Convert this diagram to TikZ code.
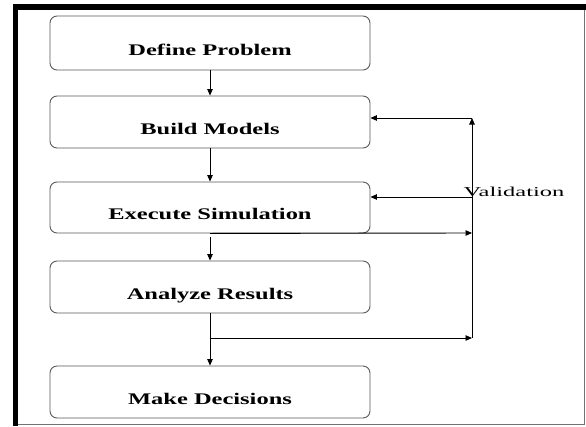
\documentclass[tikz,border=0pt]{standalone}
\usepackage{fontspec}
\setmainfont{Liberation Serif}
\newfontfamily\boxfont[FakeStretch=1.51]{Liberation Serif}
\newfontfamily\valfont[FakeStretch=1.8]{Liberation Serif}
\usetikzlibrary{arrows.meta}
\begin{document}
\begin{tikzpicture}[x=1pt,y=-1pt,
  stage/.style={draw=black!65, line width=0.9pt, rounded corners=7pt,
    minimum width=320pt, inner sep=0pt, text height=24.7pt, text depth=0pt,
    font=\boxfont\bfseries\fontsize{16.2}{18}\selectfont},
  arr/.style={-{Triangle[length=6.5pt,width=5.5pt]}, line width=0.9pt, draw=black},
  vlabel/.style={font=\valfont\fontsize{13.6}{15}\selectfont, inner sep=0pt, anchor=base west}
]
\useasboundingbox (0,0) rectangle (586,426);
% frame
\fill[black] (13,4) rectangle (586,10);
\fill[black] (13,4) rectangle (18,426);
\draw[black!55, line width=1pt] (584.5,10) -- (584.5,424.5) -- (18,424.5);
% stages
\node[stage, minimum height=54pt] (d) at (210,43) {Define Problem};
\node[stage, minimum height=52pt] (b) at (210,122) {Build Models};
\node[stage, minimum height=51pt] (e) at (210,207.5) {Execute Simulation};
\node[stage, minimum height=52pt] (a) at (210,287) {Analyze Results};
\node[stage, minimum height=52pt] (m) at (210,392) {Make Decisions};
% main flow
\path (e.south) ++(0,4) coordinate (es);
\draw[arr] (d.south) -- (b.north);
\draw[arr] (b.south) -- (e.north);
\draw[arr] (es) -- (a.north);
\draw[arr] (a.south) -- (m.north);
% validation loop
\coordinate (v1) at (472,118);
\coordinate (v2) at (472,197);
\coordinate (v3) at (472,233);
\coordinate (v4) at (472,338);
\coordinate (br) at (210,338);
\draw[arr] (br) -- (v4);
\draw[arr] (e.south) -- (v3);
\draw[arr] (v4) -- (v1);
\draw[arr] (v1) -- (b.east |- v1);
\draw[arr] (v2) -- (e.east |- v2);
\node[vlabel] (val) at (463.5,196.2) {Validation};
\end{tikzpicture}
\end{document}
